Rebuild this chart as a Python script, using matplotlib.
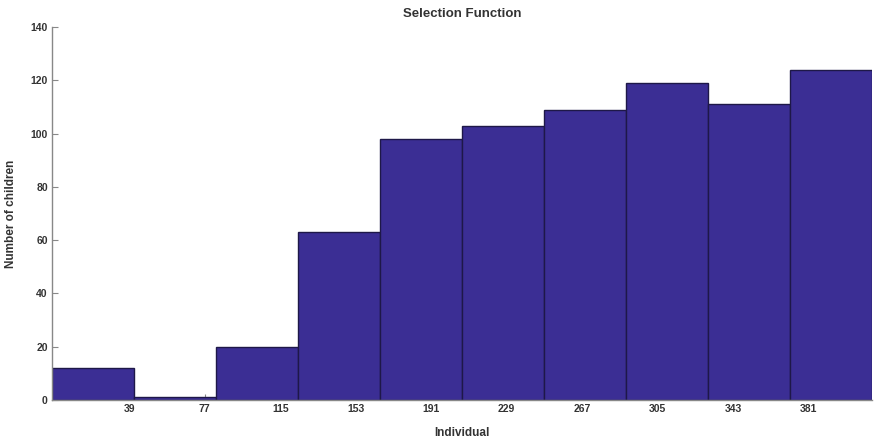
import numpy as np
import matplotlib
matplotlib.use("Agg")
import matplotlib.pyplot as plt

plt.rcParams['font.family'] = ['Liberation Sans', 'DejaVu Sans']

counts = [12, 1, 20, 63, 98, 103, 109, 119, 111, 124]
x_min, x_max = 0, 413
xtick_vals = [39, 77, 115, 153, 191, 229, 267, 305, 343, 381]
ytick_vals = [0, 20, 40, 60, 80, 100, 120, 140]

edges = np.linspace(x_min, x_max, len(counts) + 1)
width = edges[1] - edges[0]

fig = plt.figure(figsize=(8.75, 4.42), dpi=100)
ax = fig.add_axes([0.0594, 0.095, 0.9372, 0.844])
ax.bar(edges[:-1], counts, width=width, align='edge', color='#3b2e94',
       edgecolor='#1e1848', linewidth=1.0, zorder=2)

ax.set_xlim(x_min, x_max)
ax.set_ylim(0, 140)
ax.set_xticks(xtick_vals)
ax.set_yticks(ytick_vals)
ax.tick_params(direction='in', length=4, width=0.8, color='#888888',
               labelsize=7.5, pad=3)
for lbl in ax.get_xticklabels() + ax.get_yticklabels():
    lbl.set_fontweight('bold')
    lbl.set_color('#333333')

for s in ['top', 'right']:
    ax.spines[s].set_visible(False)
for s in ['left', 'bottom']:
    ax.spines[s].set_color('#888888')
    ax.spines[s].set_linewidth(1.0)

ax.set_title('Selection Function', fontsize=9.5, fontweight='bold',
             color='#333333', pad=7)
ax.set_xlabel('Individual', fontsize=8.5, fontweight='bold', color='#333333',
              labelpad=9)
ax.set_ylabel('Number of children', fontsize=8.5, fontweight='bold',
              color='#333333', labelpad=10)

fig.savefig('out.png', dpi=100)
